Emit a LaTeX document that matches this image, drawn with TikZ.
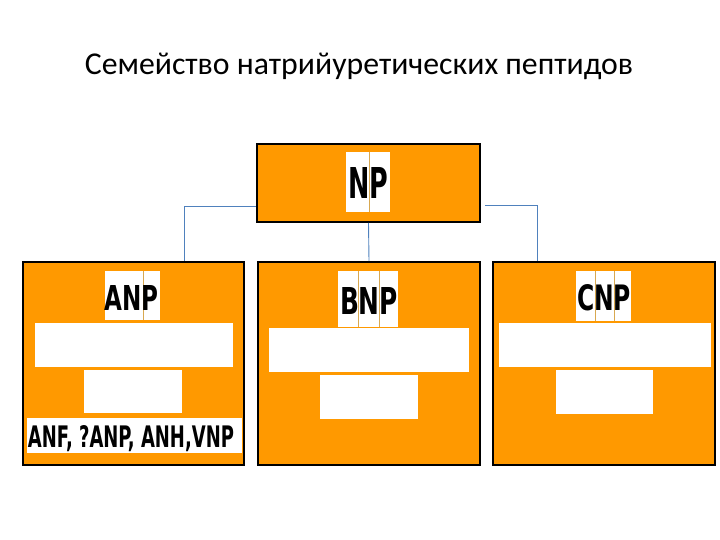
\documentclass[tikz,border=0pt]{standalone}
\usepackage{fontspec}
\setmainfont{Liberation Sans}
\newfontfamily\titlefont{Carlito}
\newfontfamily\heavyfont{DejaVu Sans Condensed}
\usepackage{graphicx}
\definecolor{boxorange}{HTML}{FF9900}
\definecolor{connblue}{HTML}{4F81BD}
\definecolor{divider}{HTML}{D8A850}
\begin{document}
\begin{tikzpicture}[x=1pt,y=-1pt,
  bigbox/.style={draw=black,line width=1.6pt,fill=boxorange,inner sep=0pt},
  wbox/.style={fill=white,draw=none,inner sep=0pt},
  divline/.style={draw=divider,line width=0.6pt},
  conn/.style={draw=connblue,line width=0.9pt}]
\useasboundingbox (0,0) rectangle (720,540);
% title
\node[anchor=base,inner sep=0pt] (title) at (359,75)
  {\resizebox{548pt}{!}{\titlefont\fontsize{24}{28}\selectfont Семейство натрийуретических пептидов}};
% main boxes
\node[bigbox,minimum width=223pt,minimum height=78pt] (np) at (368.5,183) {};
\node[bigbox,minimum width=221pt,minimum height=203pt] (anp) at (133.5,363.5) {};
\node[bigbox,minimum width=222pt,minimum height=203pt] (bnp) at (369,363.5) {};
\node[bigbox,minimum width=222pt,minimum height=203pt] (cnp) at (604,363.5) {};
% connectors
\draw[conn] ([yshift=-23pt]np.west) -| ([xshift=50.5pt]anp.north);
\draw[conn] (np.south) -- (bnp.north);
\draw[conn] ([xshift=4pt,yshift=-22pt]np.east) -| ([xshift=-67pt]cnp.north);
% NP label
\fill[white] (346,152) rectangle (390,212);
\draw[divline] (369,152) -- (369,212);
\node[inner sep=0pt,anchor=base] (nplabel) at (368.5,198) {\resizebox{40pt}{31pt}{\heavyfont\bfseries NP}};
% ANP
\fill[white] (105,271) rectangle (160,320);
\draw[divline] (143,271) -- (143,320);
\node[inner sep=0pt,anchor=base] (anplabel) at (131.5,310) {\resizebox{54pt}{25pt}{\heavyfont\bfseries ANP}};
\node[wbox,minimum width=198pt,minimum height=44pt] (anpbar) at (134,345) {};
\node[wbox,minimum width=98pt,minimum height=43pt] (anpsmall) at (133,391.5) {};
\fill[white] (27,418) rectangle (242,453);
\node[inner sep=0pt,anchor=base] (anptext) at (131,447) {\resizebox{206pt}{22pt}{\heavyfont\bfseries ANF, ?ANP, ANH,VNP}};
% BNP
\fill[white] (338,271) rectangle (398,327);
\draw[divline] (358,271) -- (358,327);
\draw[divline] (379,271) -- (379,327);
\node[inner sep=0pt,anchor=base] (bnplabel) at (369,314) {\resizebox{58pt}{27pt}{\heavyfont\bfseries BNP}};
\node[wbox,minimum width=200pt,minimum height=44pt] (bnpbar) at (369,350) {};
\node[wbox,minimum width=98pt,minimum height=44pt] (bnpsmall) at (369,397) {};
% CNP
\fill[white] (576,271) rectangle (631,321);
\draw[divline] (595,271) -- (595,321);
\draw[divline] (614,271) -- (614,321);
\node[inner sep=0pt,anchor=base] (cnplabel) at (604,310) {\resizebox{54pt}{26pt}{\heavyfont\bfseries CNP}};
\node[wbox,minimum width=212pt,minimum height=44pt] (cnpbar) at (605,345) {};
\node[wbox,minimum width=97pt,minimum height=44pt] (cnpsmall) at (604.5,392) {};
\end{tikzpicture}
\end{document}
